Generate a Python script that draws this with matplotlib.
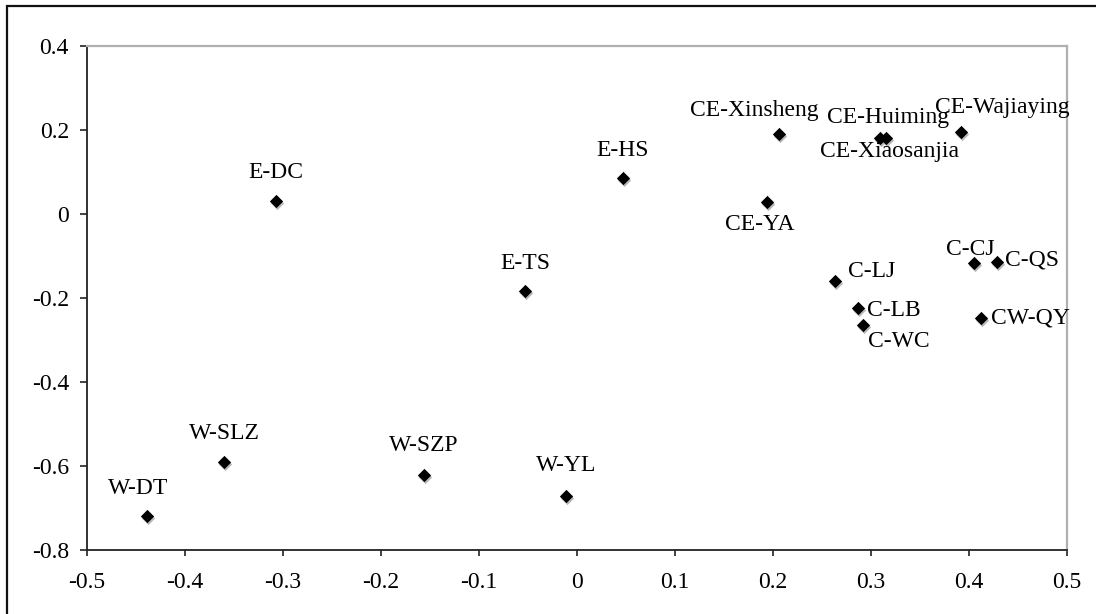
import matplotlib.pyplot as plt
import matplotlib.patches as patches
import matplotlib.transforms as mtrans

# site coordinates on the two ordination axes
sites = ['W-DT', 'W-SLZ', 'W-SZP', 'W-YL', 'E-DC', 'E-TS', 'E-HS',
         'CE-Xinsheng', 'CE-YA', 'CE-Xiaosanjia', 'CE-Huiming', 'CE-Wajiaying',
         'C-LJ', 'C-LB', 'C-WC', 'C-CJ', 'C-QS', 'CW-QY']
axis1 = [-0.439, -0.360, -0.156, -0.011, -0.307, -0.053, 0.047,
         0.206, 0.194, 0.309, 0.315, 0.392,
         0.263, 0.287, 0.292, 0.405, 0.429, 0.412]
axis2 = [-0.719, -0.590, -0.621, -0.671, 0.031, -0.183, 0.086,
         0.190, 0.029, 0.181, 0.181, 0.195,
         -0.159, -0.224, -0.264, -0.117, -0.114, -0.248]

xticks = [-0.5, -0.4, -0.3, -0.2, -0.1, 0, 0.1, 0.2, 0.3, 0.4, 0.5]
yticks = [-0.8, -0.6, -0.4, -0.2, 0, 0.2, 0.4]

# label placement: (dx, dy) in pixels from the marker, horizontal alignment
label_pos = {
    'W-DT': (-9, 27, 'center'), 'W-SLZ': (0, 28, 'center'),
    'W-SZP': (0, 29, 'center'), 'W-YL': (0, 30, 'center'),
    'E-DC': (0, 28, 'center'), 'E-TS': (0, 27, 'center'),
    'E-HS': (0, 27, 'center'), 'CE-Xinsheng': (-25, 24, 'center'),
    'CE-YA': (-7, -23, 'center'), 'CE-Xiaosanjia': (10, -14, 'center'),
    'CE-Huiming': (2, 20, 'center'), 'CE-Wajiaying': (41, 25, 'center'),
    'C-LJ': (13, 9, 'left'), 'C-LB': (9, -2, 'left'),
    'C-WC': (5, -17, 'left'), 'C-CJ': (-4, 14, 'center'),
    'C-QS': (8, 2, 'left'), 'CW-QY': (10, 0, 'left'),
}

plt.rcParams['font.family'] = ['Liberation Serif', 'DejaVu Serif']
plt.rcParams['axes.unicode_minus'] = False

fig = plt.figure(figsize=(10.96, 6.14), dpi=100)
ax = fig.add_axes([87 / 1096, 1 - 550 / 614, 980 / 1096, 504 / 614])

# soft shadow under each diamond
shadow = mtrans.offset_copy(ax.transData, fig=fig, x=1, y=-2, units='dots')
ax.scatter(axis1, axis2, marker='D', s=46, color='#8a8a8a', alpha=0.6,
           linewidths=0, transform=shadow, zorder=2)
ax.scatter(axis1, axis2, marker='D', s=46, color='black', linewidths=0, zorder=3)

for name, x, y in zip(sites, axis1, axis2):
    dx, dy, ha = label_pos[name]
    ax.annotate(name, (x, y), xytext=(dx, dy), textcoords='offset pixels',
                ha=ha, va='center', fontsize=17, color='black')

ax.set_xlim(-0.5, 0.5)
ax.set_ylim(-0.8, 0.4)
ax.set_xticks(xticks)
ax.set_yticks(yticks)
ax.set_xticklabels(['0' if t == 0 else f'{t:g}' for t in xticks])
ax.set_yticklabels(['0' if t == 0 else f'{t:g}' for t in yticks])
ax.tick_params(axis='x', direction='out', length=4.5, width=1.2, pad=11,
               labelsize=17, color='#222222')
ax.tick_params(axis='y', direction='out', length=5, width=1.2, pad=8,
               labelsize=17, color='#222222')

for side in ['left', 'bottom']:
    ax.spines[side].set_color('#222222')
    ax.spines[side].set_linewidth(1.3)
for side in ['top', 'right']:
    ax.spines[side].set_color('#b0b0b0')
    ax.spines[side].set_linewidth(1.6)

# outer frame around the figure
frame = patches.Rectangle((7 / 1096, -0.05), 1.1, 1 - 6 / 614 + 0.05,
                          transform=fig.transFigure, fill=False,
                          edgecolor='#111111', linewidth=1.6, clip_on=False)
fig.patches.append(frame)

fig.savefig('out.png', dpi=100)
